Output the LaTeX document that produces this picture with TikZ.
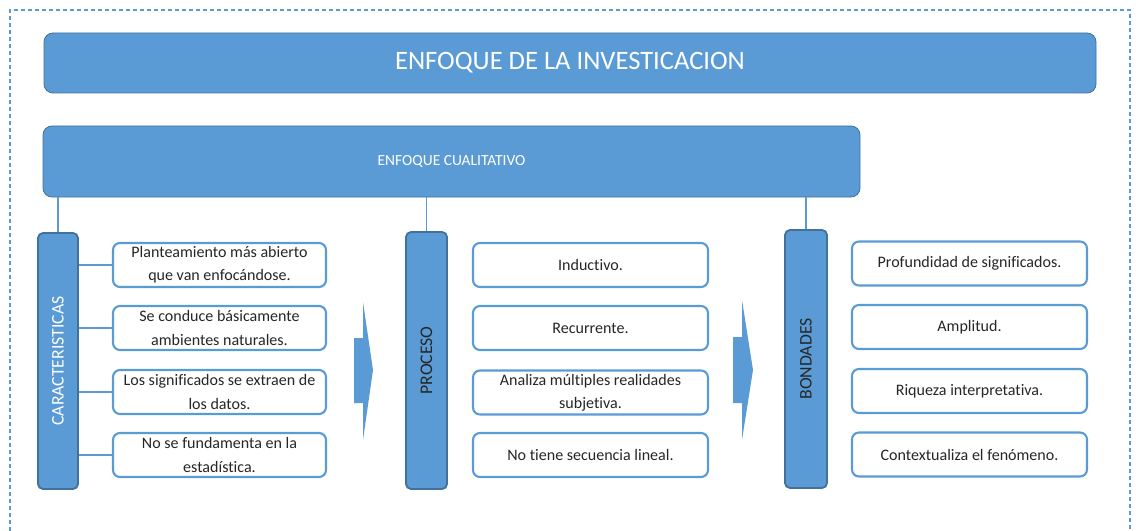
\documentclass[tikz,border=0pt]{standalone}
\usepackage{fontspec}
\setmainfont{Carlito}[Ligatures=NoCommon]
\usetikzlibrary{positioning}

\definecolor{officeblue}{HTML}{5B9BD5}
\definecolor{darkblue}{HTML}{41719C}
\definecolor{itemtext}{HTML}{262626}
\newlength\unitpx
\setlength\unitpx{0.025cm}

\begin{document}
\begin{tikzpicture}[x=0.025cm, y=-0.025cm,
    headbox/.style={draw=darkblue, line width=0.6pt, fill=officeblue, rounded corners=9\unitpx, text=white, inner sep=0pt},
    barbox/.style={draw=darkblue, line width=1.3pt, fill=officeblue, rounded corners=5\unitpx, inner sep=0pt},
    itembox/.style={draw=officeblue, line width=1.5pt, fill=white, rounded corners=7\unitpx, minimum height=44\unitpx, align=center, text=itemtext, font=\fontsize{11.4}{16.5}\selectfont, inner sep=0pt},
    barlabel/.style={rotate=90, font=\fontsize{12.6}{14}\selectfont},
    link/.style={draw=officeblue, line width=0.8pt}]
    \useasboundingbox (0, 0) rectangle (1136, 531);

    % dashed frame, open at the bottom
    \draw [officeblue, line width=0.8pt, dash pattern=on 4\unitpx off 3\unitpx] (10, 531) -- (10, 10) -- (1130, 10) -- (1130, 531);

    % headers
    \node [headbox, minimum width=1052\unitpx, minimum height=60\unitpx, font=\fontsize{18.9}{22}\selectfont] (title) at (570, 63) {ENFOQUE DE LA INVESTICACION};
    \node [headbox, minimum width=817\unitpx, minimum height=71\unitpx, font=\fontsize{11}{13}\selectfont] (cual) at (451.5, 161.5) {ENFOQUE CUALITATIVO};

    % vertical bars
    \node [barbox, minimum width=40\unitpx, minimum height=256\unitpx, label={[barlabel, text=white]center:CARACTERISTICAS}] (carac) at (58, 361) {};
    \node [barbox, minimum width=41\unitpx, minimum height=257\unitpx, label={[barlabel, text=itemtext]center:PROCESO}] (proc) at (426.5, 360.5) {};
    \node [barbox, minimum width=42\unitpx, minimum height=258\unitpx, label={[barlabel, text=itemtext]center:BONDADES}] (bond) at (806, 359) {};

    % caracteristicas
    \node [itembox, minimum width=213\unitpx] (car1) at (219.5, 265) {Planteamiento más abierto\\que van enfocándose.};
    \node [itembox, minimum width=213\unitpx] (car2) at (219.5, 328) {Se conduce básicamente\\ambientes naturales.};
    \node [itembox, minimum width=213\unitpx] (car3) at (219.5, 392) {Los significados se extraen de\\los datos.};
    \node [itembox, minimum width=213\unitpx] (car4) at (219.5, 455) {No se fundamenta en la\\estadística.};

    % proceso
    \node [itembox, minimum width=235\unitpx] (pro1) at (590.5, 265) {Inductivo.};
    \node [itembox, minimum width=235\unitpx] (pro2) at (590.5, 328) {Recurrente.};
    \node [itembox, minimum width=235\unitpx] (pro3) at (590.5, 392.5) {Analiza múltiples realidades\\subjetiva.};
    \node [itembox, minimum width=235\unitpx] (pro4) at (590.5, 455) {No tiene secuencia lineal.};

    % bondades
    \node [itembox, minimum width=235\unitpx] (bon1) at (969.5, 263.5) {Profundidad de significados.};
    \node [itembox, minimum width=235\unitpx] (bon2) at (969.5, 327) {Amplitud.};
    \node [itembox, minimum width=235\unitpx] (bon3) at (969.5, 391) {Riqueza interpretativa.};
    \node [itembox, minimum width=235\unitpx] (bon4) at (969.5, 454.5) {Contextualiza el fenómeno.};

    % links
    \draw [link] (cual.south -| carac.north) -- (carac.north);
    \draw [link] (cual.south -| proc.north) -- (proc.north);
    \draw [link] (cual.south -| bond.north) -- (bond.north);
    \draw [link] (carac.east |- car1.west) -- (car1.west);
    \draw [link] (carac.east |- car2.west) -- (car2.west);
    \draw [link] (carac.east |- car3.west) -- (car3.west);
    \draw [link] (carac.east |- car4.west) -- (car4.west);

    % block arrows
    \fill [officeblue] (354, 338) -- (363, 338) -- (363, 302) -- (373, 370) -- (363, 440) -- (363, 403) -- (354, 403) -- cycle;
    \fill [officeblue] (733, 337) -- (742, 337) -- (742, 300) -- (753, 370) -- (742, 440) -- (742, 403) -- (733, 403) -- cycle;
\end{tikzpicture}
\end{document}
